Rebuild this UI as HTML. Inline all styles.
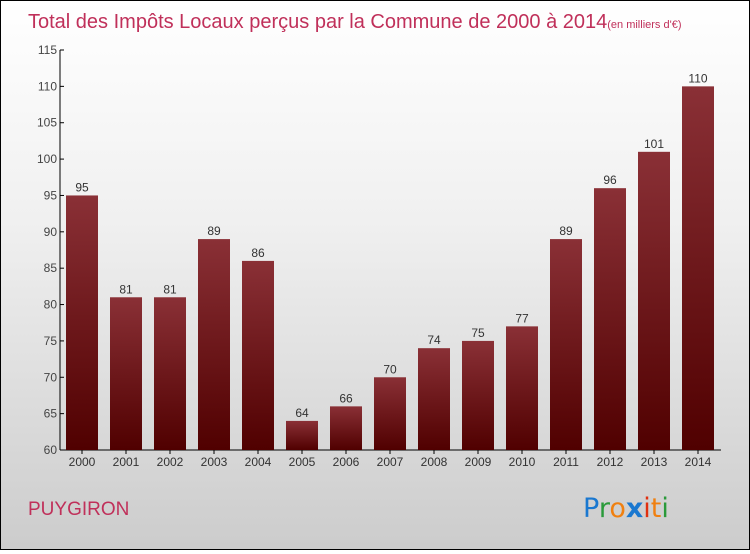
<!DOCTYPE html>
<html><head><meta charset="utf-8"><style>
body{margin:0;width:750px;height:550px;overflow:hidden;font-family:"Liberation Sans",sans-serif}
#wrap{position:relative;width:748px;height:548px;border:1px solid #000;background:linear-gradient(#ffffff,#f0f0f0 40%,#cccccc)}
</style></head><body>
<div id="wrap">
<svg id="chart" width="748" height="548">
<defs><linearGradient id="bg" x1="0" y1="0" x2="0" y2="1"><stop offset="0" stop-color="#8a3036"/><stop offset="1" stop-color="#500000"/></linearGradient></defs>
<text x="27" y="27" font-size="20" fill="#c0305a">Total des Impôts Locaux perçus par la Commune de 2000 à 2014<tspan font-size="11">(en milliers d'€)</tspan></text>
<text x="27" y="514" font-size="19" fill="#c0305a">PUYGIRON</text>
<g font-size="27" font-family="'DejaVu Sans',sans-serif">
<text x="582" y="516"><tspan fill="#1a78d0">P</tspan><tspan fill="#2a9a3a">r</tspan><tspan fill="#f08010">o</tspan><tspan fill="#1a78d0" font-weight="bold">x</tspan><tspan fill="#e03010">i</tspan><tspan fill="#f08010">t</tspan><tspan fill="#2a9a3a">i</tspan></text></g>
<g id="axes"></g><g id="bars"></g>
</svg></div>
<script>
const years=["2000","2001","2002","2003","2004","2005","2006","2007","2008","2009","2010","2011","2012","2013","2014"];
const values=[95,81,81,89,86,64,66,70,74,75,77,89,96,101,110];
const yTicks=[60,65,70,75,80,85,90,95,100,105,110,115];
const ns="http://www.w3.org/2000/svg";
const yMin=60,yMax=115,plotTop=49,plotBot=449,x0=59;
const yS=v=>plotBot-(v-yMin)/(yMax-yMin)*(plotBot-plotTop);
const xS=i=>81+i*44;
function mk(t,a,p){const e=document.createElementNS(ns,t);for(const k in a)e.setAttribute(k,a[k]);p.appendChild(e);return e;}
const ax=document.getElementById('axes'),bs=document.getElementById('bars');
const yl=mk('line',{x1:x0,x2:x0,y1:plotTop,y2:plotBot,stroke:'#000'},ax);


const xl=mk('line',{x1:x0,x2:720,y1:plotBot,y2:plotBot,stroke:'#000'},ax);


yTicks.forEach(v=>{
 mk('line',{x1:x0,x2:x0+4,y1:yS(v),y2:yS(v),stroke:'#000'},ax);
 const t=mk('text',{x:x0-3,y:yS(v)+4,'text-anchor':'end','font-size':12,fill:'#444'},ax);
 t.textContent=v;
 
 
});
years.forEach((yr,i)=>{
 const r=mk('rect',{x:xS(i)-16,y:yS(values[i]),width:32,height:plotBot-yS(values[i]),fill:'url(#bg)'},bs);
 
 
 const l=mk('text',{x:xS(i),y:yS(values[i])-4,'text-anchor':'middle','font-size':12,fill:'#333'},bs);
 l.textContent=values[i];
 
 
 mk('line',{x1:xS(i),x2:xS(i),y1:plotBot,y2:plotBot+4,stroke:'#000'},ax);
 const xt=mk('text',{x:xS(i),y:plotBot+16,'text-anchor':'middle','font-size':12,fill:'#333'},ax);
 xt.textContent=yr;
 
 
});
</script>
</body></html>
